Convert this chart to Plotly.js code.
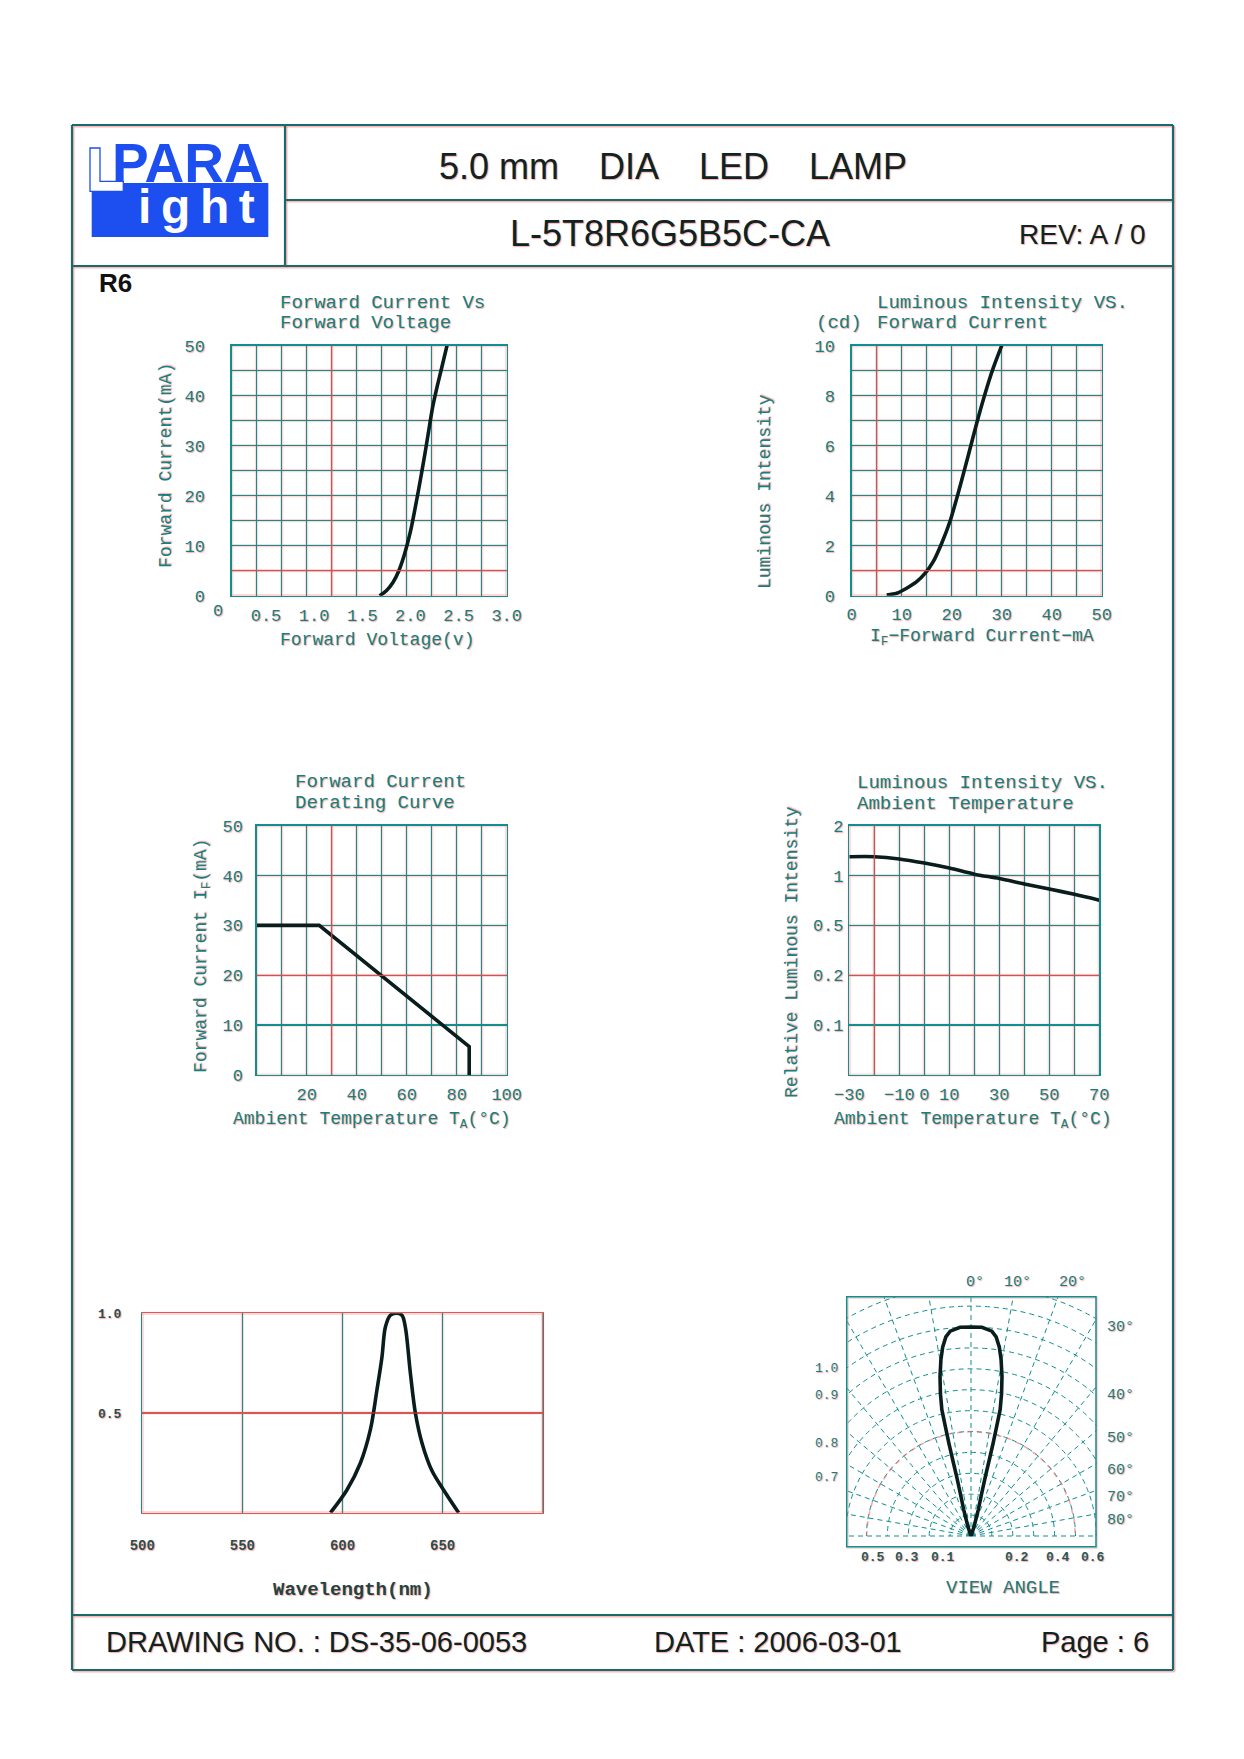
<!DOCTYPE html>
<html><head><meta charset="utf-8">
<script src="https://cdn.plot.ly/plotly-3.0.1.min.js"></script>
<style>html,body{margin:0;padding:0;background:#fff}#page{width:1244px;height:1759px}</style>
</head><body><div id="page"></div>
<script>
// ---------------- data ----------------
// Forward current vs forward voltage
const fvVoltage = [1.68,1.75,1.82,1.88,1.94,2.00,2.05,2.10,2.15,2.19,2.23,2.28,2.33,2.38];
const fvCurrent = [0,1.0,2.7,5.0,8.4,12.8,17.6,22.8,28.3,33.0,37.6,42.0,46.0,50];
const fvXTicks  = [0.5,1.0,1.5,2.0,2.5,3.0];
const fvXLabels = ['0.5','1.0','1.5','2.0','2.5','3.0'];

// Luminous intensity vs forward current
const liCurrent   = [7,9,11,13,14.7,16.3,18,19.7,21.7,23.3,25,26.7,28.3,30];
const liIntensity = [0.03,0.1,0.3,0.56,0.9,1.36,2.1,3.0,4.4,5.6,6.9,8.1,9.1,10];

// Forward current derating curve
const drTemp    = [0,25,85,85];
const drCurrent = [30,30,5.7,0];
const drXTicks  = [20,40,60,80,100];

// Luminous intensity vs ambient temperature
const atTemp    = [-30,-20,-10,0,10,20,30,40,50,60,70];
const atRel     = [1.30,1.30,1.26,1.19,1.11,1.02,0.96,0.89,0.83,0.77,0.71];
const atXTicks  = [-30,-10,0,10,30,50,70];
const atXLabels = ['\u221230','\u221210','0','10','30','50','70'];
const atYTicks  = [2,1,0.5,0.25,0.125];
const atYLabels = ['2','1','0.5','0.2','0.1'];

// Spectrum
const spWave = [594,602.2,608.9,613.9,617.2,619.7,621.4,623.9,626.7,629.7,631.4,633.9,636.4,639.7,644.7,650.5,658];
const spRel  = [0,0.114,0.248,0.415,0.615,0.78,0.93,0.99,1.0,0.99,0.93,0.70,0.50,0.35,0.21,0.114,0];
const spXTicks = [500,550,600,650];
const spYTicks = [0.5,1.0];
const spYLabels = ['0.5','1.0'];

// Viewing angle lobe (degrees, relative intensity)
const vaTheta = [0,-18,-15.5,-14.1,-13.6,-13.5,-13.4,-13.2,-13,-12.1,-11,-9.7,-8.5,-7.2,-5.8,-3,0,3,5.8,7.2,8.5,9.7,11,12.1,13,13.2,13.4,13.5,13.6,14.1,15.5,18,0];
const vaR     = [0,0.047,0.13,0.21,0.292,0.374,0.456,0.537,0.62,0.698,0.777,0.855,0.915,0.96,0.985,1.0,1.0,1.0,0.985,0.96,0.915,0.855,0.777,0.698,0.62,0.537,0.456,0.374,0.292,0.21,0.13,0.047,0];
const arcTheta = [-90,-80,-70,-60,-50,-40,-30,-20,-10,0,10,20,30,40,50,60,70,80,90];
const arcR     = [0.5,0.5,0.5,0.5,0.5,0.5,0.5,0.5,0.5,0.5,0.5,0.5,0.5,0.5,0.5,0.5,0.5,0.5,0.5];

// ---------------- style ----------------
const W = 1244, H = 1759;
const xp = v => v / W;
const yp = v => 1 - v / H;
const SANS = 'Liberation Sans, Arial, sans-serif';
const MONO = 'Liberation Mono, DejaVu Sans Mono, monospace';
const TEAL = '#0f8f8d';
const TXT = '#12807e';
const DARK = '#0c2424';
const FRAME = '#176b6b';
const CURVE = '#0a1d1d';
const PINK = 'rgba(255,130,130,0.32)';
const REDLINE = 'rgba(226,80,80,0.85)';
const BLUE = '#1c4ef0';
const SHADOW = '1px 1px 1px rgba(255,100,100,0.55)';

const tickFont = (size, extra) => Object.assign({family: MONO, size: size, color: TXT, shadow: SHADOW}, extra || {});
const AX = {showline: true, mirror: true, linecolor: TEAL, linewidth: 1.4, gridcolor: TEAL, gridwidth: 1.4,
  zeroline: false, tickangle: 0, ticks: 'outside', tickcolor: 'rgba(0,0,0,0)', tickfont: tickFont(17), fixedrange: true};
const MINOR = {showgrid: true, gridcolor: TEAL, gridwidth: 1.4, ticks: ''};

function T(text, x, y, size, o) {
  o = o || {};
  return {text: text, x: xp(x), y: yp(y), xref: 'paper', yref: 'paper', showarrow: false,
    xanchor: o.xa || 'center', yanchor: o.ya || 'middle', textangle: o.angle || 0,
    font: {family: o.family || MONO, size: size, color: o.color || TXT, weight: o.weight || 'normal',
      shadow: o.shadow === undefined ? SHADOW : o.shadow}};
}
function gridShadow(sub, ncols, nrows) {
  const xa = 'x' + sub + ' domain', ya = 'y' + sub + ' domain', out = [];
  for (let i = 0; i <= ncols; i++) out.push({type: 'line', xref: xa, yref: ya, x0: i / ncols, x1: i / ncols, y0: 0, y1: 1, layer: 'below', line: {color: PINK, width: 3.2}});
  for (let j = 0; j <= nrows; j++) out.push({type: 'line', xref: xa, yref: ya, x0: 0, x1: 1, y0: j / nrows, y1: j / nrows, layer: 'below', line: {color: PINK, width: 3.2}});
  return out;
}
function accent(sub, vertical, f) {
  const xa = 'x' + sub + ' domain', ya = 'y' + sub + ' domain';
  return vertical ? {type: 'line', xref: xa, yref: ya, x0: f, x1: f, y0: 0, y1: 1, layer: 'above', line: {color: REDLINE, width: 1.2}}
                  : {type: 'line', xref: xa, yref: ya, x0: 0, x1: 1, y0: f, y1: f, layer: 'above', line: {color: REDLINE, width: 1.2}};
}
function pathPx(pts) { return 'M' + pts.map(p => xp(p[0]) + ',' + yp(p[1])).join(' L') + ' Z'; }
function rectPx(x0, y0, x1, y1, line, fill) {
  return {type: 'rect', xref: 'paper', yref: 'paper', x0: xp(x0), x1: xp(x1), y0: yp(y1), y1: yp(y0),
    line: line || {width: 0, color: 'rgba(0,0,0,0)'}, fillcolor: fill || 'rgba(0,0,0,0)', layer: 'above'};
}
function linePx(x0, y0, x1, y1, color, width) {
  return {type: 'line', xref: 'paper', yref: 'paper', x0: xp(x0), x1: xp(x1), y0: yp(y0), y1: yp(y1),
    line: {color: color, width: width}, layer: 'above'};
}

// ---------------- traces ----------------
const curveLine = {color: CURVE, width: 3.6};
const data = [
  {type: 'scatter', mode: 'lines', x: fvVoltage, y: fvCurrent, xaxis: 'x', yaxis: 'y', line: Object.assign({shape: 'spline', smoothing: 0.8}, curveLine), hoverinfo: 'skip'},
  {type: 'scatter', mode: 'lines', x: liCurrent, y: liIntensity, xaxis: 'x2', yaxis: 'y2', line: Object.assign({shape: 'spline', smoothing: 0.8}, curveLine), hoverinfo: 'skip'},
  {type: 'scatter', mode: 'lines', x: drTemp, y: drCurrent, xaxis: 'x3', yaxis: 'y3', line: curveLine, hoverinfo: 'skip'},
  {type: 'scatter', mode: 'lines', x: atTemp, y: atRel, xaxis: 'x4', yaxis: 'y4', line: Object.assign({shape: 'spline', smoothing: 0.8}, curveLine), hoverinfo: 'skip'},
  {type: 'scatter', mode: 'lines', x: spWave, y: spRel, xaxis: 'x5', yaxis: 'y5', line: Object.assign({shape: 'spline', smoothing: 0.9}, curveLine), hoverinfo: 'skip'},
  {type: 'scatterpolar', mode: 'lines', theta: arcTheta, r: arcR, subplot: 'polar', line: {color: 'rgba(240,110,110,0.6)', width: 1.6, dash: '5px,5px'}, hoverinfo: 'skip'},
  {type: 'scatterpolar', mode: 'lines', theta: vaTheta, r: vaR, subplot: 'polar', line: {color: CURVE, width: 3.6}, hoverinfo: 'skip'}
];

// ---------------- layout ----------------
const fvRange = [0.144, 3.0];
const layout = {
  width: W, height: H, autosize: false, margin: {l: 0, r: 0, t: 0, b: 0, pad: 0},
  paper_bgcolor: '#ffffff', plot_bgcolor: '#ffffff', showlegend: false, dragmode: false,
  xaxis: Object.assign({}, AX, {domain: [xp(231.7), xp(506.7)], anchor: 'y', range: fvRange,
    tickmode: 'array', tickvals: fvXTicks, ticktext: fvXLabels, showgrid: false, ticklen: 3,
    minor: Object.assign({}, MINOR, {tickmode: 'linear', tick0: fvRange[0], dtick: (fvRange[1] - fvRange[0]) / 11})}),
  yaxis: Object.assign({}, AX, {domain: [yp(595.7), yp(345.7)], anchor: 'x', range: [0, 50],
    tickmode: 'linear', tick0: 0, dtick: 10, showgrid: true, ticklen: 22,
    minor: Object.assign({}, MINOR, {tick0: 0, dtick: 5})}),
  xaxis2: Object.assign({}, AX, {domain: [xp(851.7), xp(1101.7)], anchor: 'y2', range: [0, 50],
    tickmode: 'linear', tick0: 0, dtick: 10, showgrid: true, ticklen: 2,
    minor: Object.assign({}, MINOR, {tick0: 0, dtick: 5})}),
  yaxis2: Object.assign({}, AX, {domain: [yp(595.7), yp(345.7)], anchor: 'x2', range: [0, 10],
    tickmode: 'linear', tick0: 0, dtick: 2, showgrid: true, ticklen: 12,
    minor: Object.assign({}, MINOR, {tick0: 0, dtick: 1})}),
  xaxis3: Object.assign({}, AX, {domain: [xp(256.7), xp(506.7)], anchor: 'y3', range: [0, 100],
    tickmode: 'array', tickvals: drXTicks, showgrid: true, ticklen: 3,
    minor: Object.assign({}, MINOR, {tick0: 0, dtick: 10})}),
  yaxis3: Object.assign({}, AX, {domain: [yp(1075), yp(825.7)], anchor: 'x3', range: [0, 50],
    tickmode: 'linear', tick0: 0, dtick: 10, showgrid: true, ticklen: 9}),
  xaxis4: Object.assign({}, AX, {domain: [xp(849.3), xp(1099.3)], anchor: 'y4', range: [-30, 70],
    tickmode: 'array', tickvals: atXTicks, ticktext: atXLabels, showgrid: true, ticklen: 3,
    minor: Object.assign({}, MINOR, {tick0: -30, dtick: 10})}),
  yaxis4: Object.assign({}, AX, {domain: [yp(1075), yp(825.7)], anchor: 'x4', type: 'log',
    range: [Math.log10(0.0625), Math.log10(2)], tickmode: 'array', tickvals: atYTicks, ticktext: atYLabels,
    showgrid: true, ticklen: 1}),
  xaxis5: Object.assign({}, AX, {domain: [xp(142.3), xp(542.7)], anchor: 'y5', range: [500, 700],
    tickmode: 'array', tickvals: spXTicks, showgrid: true, ticklen: 19, linecolor: '#d85a5a',
    tickfont: tickFont(14, {color: '#2b4d4d', weight: 'bold'})}),
  yaxis5: Object.assign({}, AX, {domain: [yp(1512.7), yp(1313.3)], anchor: 'x5', range: [0, 1],
    tickmode: 'array', tickvals: spYTicks, ticktext: spYLabels, showgrid: true, gridcolor: '#d85a5a', ticklen: 17,
    tickfont: tickFont(13, {color: '#2b4d4d', weight: 'bold'})}),
  polar: {
    domain: {x: [xp(699.3), xp(1242.7)], y: [yp(1536), yp(1264.3)]},
    sector: [0, 180], bgcolor: '#ffffff',
    radialaxis: {range: [0, 1.3], tick0: 0, dtick: 0.1, showticklabels: false, ticks: '', showline: false,
      gridcolor: TEAL, gridwidth: 1, griddash: '5px,4px'},
    angularaxis: {rotation: 90, direction: 'clockwise', dtick: 10, showticklabels: false, ticks: '', showline: false,
      gridcolor: TEAL, gridwidth: 1, griddash: '5px,4px'}
  },
  shapes: [],
  annotations: []
};

// grid halos and accent lines
layout.shapes.push(...gridShadow('', 11, 10), ...gridShadow('2', 10, 10), ...gridShadow('3', 10, 5),
  ...gridShadow('4', 10, 5), ...gridShadow('5', 4, 2));
layout.shapes.push(accent('', true, 4 / 11), accent('', false, 0.1), accent('2', true, 0.1), accent('2', false, 0.1),
  accent('3', true, 0.3), accent('3', false, 0.4), accent('4', true, 0.1), accent('4', false, 0.4),
  accent('5', true, 1), accent('5', false, 0.5));

// polar masks (outside the viewing-angle box) then box
layout.shapes.push(rectPx(690, 1255, 846.2, 1540, null, '#ffffff'));
layout.shapes.push(rectPx(1096.6, 1255, 1244, 1540, null, '#ffffff'));
layout.shapes.push(rectPx(690, 1255, 1244, 1296.2, null, '#ffffff'));
layout.shapes.push(rectPx(847.7, 1297.7, 1097, 1547.7, {color: PINK, width: 2.5}));
layout.shapes.push(rectPx(846.7, 1296.7, 1096, 1546.7, {color: TEAL, width: 1.5}));

// page frame
const frameLines = [[72, 125, 1173, 125], [72, 1670, 1173, 1670], [72, 125, 72, 1670], [1173, 125, 1173, 1670],
  [285, 125, 285, 266], [285, 200, 1173, 200], [72, 266, 1173, 266], [72, 1615, 1173, 1615]];
frameLines.forEach(l => layout.shapes.push(linePx(l[0] + 1.5, l[1] + 1.5, l[2] + 1.5, l[3] + 1.5, 'rgba(255,110,110,0.5)', 2)));
frameLines.forEach(l => layout.shapes.push(linePx(l[0], l[1], l[2], l[3], FRAME, 2.2)));

// logo
layout.shapes.push({type: 'path', xref: 'paper', yref: 'paper', layer: 'above', fillcolor: BLUE, line: {width: 0, color: BLUE},
  path: pathPx([[123.3, 183], [268.3, 183], [268.3, 237], [91.7, 237], [91.7, 191.3], [123.3, 191.3]])});
layout.shapes.push({type: 'path', xref: 'paper', yref: 'paper', layer: 'above', fillcolor: '#ffffff', line: {color: BLUE, width: 1.3},
  path: pathPx([[90, 148], [100, 148], [100, 181.3], [123.3, 181.3], [123.3, 191.3], [90, 191.3]])});

const A = layout.annotations;
const nb = '\u00a0\u00a0\u00a0\u00a0';
// header
A.push(T('PARA', 188, 163, 55, {family: SANS, weight: 'bold', color: BLUE, shadow: 'none'}));
A.push(T('i\u2009g\u2009h\u2009t', 196, 206, 48, {family: SANS, weight: 'bold', color: '#ffffff', shadow: 'none'}));
A.push(T('5.0 mm' + nb + 'DIA' + nb + 'LED' + nb + 'LAMP', 673, 166, 36, {family: SANS, color: DARK}));
A.push(T('L-5T8R6G5B5C-CA', 670, 233, 36, {family: SANS, color: DARK}));
A.push(T('REV: A / 0', 1017, 235, 28, {family: SANS, color: DARK, xa: 'left'}));
A.push(T('R6', 97, 283, 26, {family: SANS, color: '#111111', weight: 'bold', xa: 'left', shadow: 'none'}));
// chart 1
A.push(T('Forward Current Vs', 278, 303, 19, {xa: 'left'}));
A.push(T('Forward Voltage', 278, 323, 19, {xa: 'left'}));
A.push(T('Forward Current(mA)', 166, 466, 18, {angle: -90}));
A.push(T('Forward Voltage(v)', 377, 640, 18));
A.push(T('0', 218, 611, 17));
// chart 2
A.push(T('Luminous Intensity VS.', 875, 303, 19, {xa: 'left'}));
A.push(T('(cd)', 814, 323, 19, {xa: 'left'}));
A.push(T('Forward Current', 875, 323, 19, {xa: 'left'}));
A.push(T('Luminous Intensity', 765, 492, 18, {angle: -90}));
A.push(T('I<sub>F</sub>\u2212Forward Current\u2212mA', 982, 638, 18));
// chart 3
A.push(T('Forward Current', 293, 782, 19, {xa: 'left'}));
A.push(T('Derating Curve', 293, 803, 19, {xa: 'left'}));
A.push(T('Forward Current I<sub>F</sub>(mA)', 202, 956, 18, {angle: -90}));
A.push(T('Ambient Temperature T<sub>A</sub>(\u00b0C)', 372, 1120, 18));
// chart 4
A.push(T('Luminous Intensity VS.', 855, 783, 19, {xa: 'left'}));
A.push(T('Ambient Temperature', 855, 804, 19, {xa: 'left'}));
A.push(T('Relative Luminous Intensity', 792, 952, 18, {angle: -90}));
A.push(T('Ambient Temperature T<sub>A</sub>(\u00b0C)', 973, 1120, 18));
// chart 5
A.push(T('Wavelength(nm)', 353, 1590, 19, {color: '#1d4545', weight: 'bold'}));
// chart 6
[['0\u00b0', 975], ['10\u00b0', 1017], ['20\u00b0', 1072]].forEach(t => A.push(T(t[0], t[1], 1282, 15)));
[['30\u00b0', 1327], ['40\u00b0', 1395], ['50\u00b0', 1438], ['60\u00b0', 1470], ['70\u00b0', 1497], ['80\u00b0', 1520]]
  .forEach(t => A.push(T(t[0], 1105, t[1], 15, {xa: 'left'})));
[['1.0', 1368], ['0.9', 1395], ['0.8', 1443], ['0.7', 1477]].forEach(t => A.push(T(t[0], 840, t[1], 13, {xa: 'right'})));
[['0.5', 873], ['0.3', 907], ['0.1', 943], ['0.2', 1017], ['0.4', 1058], ['0.6', 1093]]
  .forEach(t => A.push(T(t[0], t[1], 1557, 13, {color: '#1f5a5a', weight: 'bold'})));
A.push(T('VIEW ANGLE', 1003, 1588, 19));
// footer
A.push(T('DRAWING NO. : DS-35-06-0053', 104, 1642, 29, {family: SANS, color: DARK, xa: 'left'}));
A.push(T('DATE : 2006-03-01', 778, 1642, 29, {family: SANS, color: DARK}));
A.push(T('Page : 6', 1151, 1642, 29, {family: SANS, color: DARK, xa: 'right'}));

Plotly.newPlot('page', data, layout, {staticPlot: true, displayModeBar: false});
</script>
</body></html>
